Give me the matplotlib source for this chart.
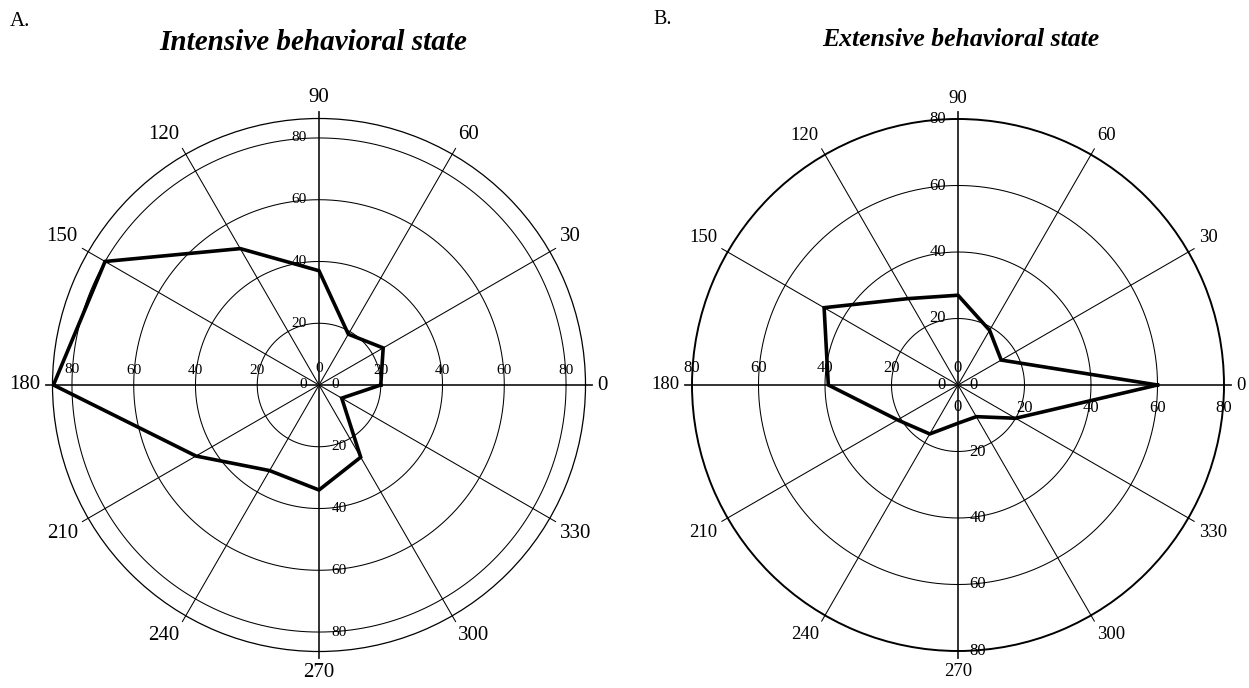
import numpy as np
import matplotlib
matplotlib.use("Agg")
import matplotlib.pyplot as plt
from matplotlib.transforms import offset_copy

plt.rcParams["font.family"] = ["Liberation Serif", "DejaVu Serif"]

# Direction (degrees) and percentage of time spent heading in each direction
angles = [0, 30, 60, 90, 120, 150, 180, 210, 240, 270, 300, 330]
intensive = [20, 24, 19, 37, 51, 80, 86, 46, 32, 34, 27, 8.5]
extensive = [60, 15, 19, 27, 30, 46.5, 39, 21, 17, 11.5, 11, 20]
rings = [20, 40, 60, 80]
titles = ["Intensive behavioral state", "Extensive behavioral state"]
panel_letters = ["A.", "B."]

W, H = 1249, 688
fig = plt.figure(figsize=(W / 100, H / 100), dpi=100)


def box(cx, cy, rad):
    return [(cx - rad) / W, (H - cy - rad) / H, 2 * rad / W, 2 * rad / H]


def draw_panel(ax, values, rmax, theta_fs, rad_fs, spine_lw, rad_offsets, zero_offsets):
    ax.set_ylim(0, rmax)
    ax.set_xticks([])
    ax.set_yticks([])
    ax.grid(False)
    ax.spines["polar"].set_linewidth(spine_lw)
    ax.spines["polar"].set_color("black")

    # spokes every 30 degrees, slightly past the rim
    for a in angles:
        th = np.deg2rad(a)
        main = a % 90 == 0
        ax.plot([th, th], [0, rmax * 1.025], color="#222222" if main else "black",
                lw=1.3 if main else 0.75, clip_on=False, zorder=2)

    # concentric rings
    tf = np.linspace(0, 2 * np.pi, 721)
    for r in rings:
        if r < rmax - 0.5:
            ax.plot(tf, np.full_like(tf, r), color="black", lw=0.75, zorder=2)

    # data polygon
    th = np.deg2rad(angles + [angles[0]])
    ax.plot(th, values + [values[0]], color="black", lw=2.6, zorder=4,
            solid_joinstyle="miter")

    # direction labels
    for a in angles:
        t = np.deg2rad(a)
        c, s = np.cos(t), np.sin(t)
        ha = "left" if c > 0.2 else ("right" if c < -0.2 else "center")
        va = "bottom" if s > 0.2 else ("top" if s < -0.2 else "center")
        ax.text(t, rmax * 1.045, str(a), ha=ha, va=va, fontsize=theta_fs,
                clip_on=False, zorder=5)

    # radial scale labels along the main axes
    for a, dx, dy in rad_offsets:
        tr = offset_copy(ax.transData, fig=fig, x=dx, y=dy, units="dots")
        for r in rings:
            ax.text(np.deg2rad(a), r, str(r), transform=tr, ha="center",
                    va="center", fontsize=rad_fs, zorder=5)
    for dx, dy in zero_offsets:
        tr = offset_copy(ax.transData, fig=fig, x=dx, y=dy, units="dots")
        ax.text(0, 0, "0", transform=tr, ha="center", va="center",
                fontsize=rad_fs, zorder=5)


axA = fig.add_axes(box(319, 385, 266.5), projection="polar")
draw_panel(axA, intensive, 86.3, 15, 11, 0.9,
           [(0, 0, 15), (180, 0, 15), (90, -20, 0), (270, 20, 0)],
           [(0, 17), (-16, 0), (16, 0)])

axB = fig.add_axes(box(958, 385, 266), projection="polar")
draw_panel(axB, extensive, 80, 13.5, 12, 1.4,
           [(0, 0, -23), (180, 0, 17), (90, -20, 0), (270, 20, 0)],
           [(0, 17), (-17, 0), (16, 0), (0, -22)])

fig.text(313 / W, 1 - 42 / H, titles[0], ha="center", va="center", fontsize=21,
         fontweight="bold", style="italic")
fig.text(961 / W, 1 - 40 / H, titles[1], ha="center", va="center", fontsize=18.5,
         fontweight="bold", style="italic")
fig.text(10 / W, 1 - 21 / H, panel_letters[0], ha="left", va="center", fontsize=15)
fig.text(653 / W, 1 - 19 / H, panel_letters[1], ha="left", va="center", fontsize=14.5)

fig.savefig("out.png", dpi=100, facecolor="white")
